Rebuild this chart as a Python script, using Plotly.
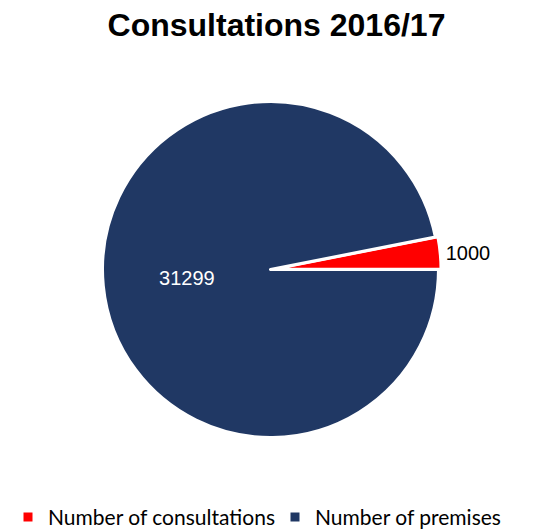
import plotly.graph_objects as go

labels = ["Number of consultations", "Number of premises"]
values = [1000, 31299]
colors = ["#FF0000", "#203864"]

# start the first slice so that it ends at 3 o'clock (slice lies just above it)
first_angle = 360.0 * values[0] / sum(values)

W, H = 537, 531

fig = go.Figure(go.Pie(
    labels=labels,
    values=values,
    sort=False,
    direction="clockwise",
    rotation=90 - first_angle,
    domain=dict(x=[92 / W, (W - 104) / W], y=[96 / H, (H - 88) / H]),
    marker=dict(colors=colors, line=dict(color="white", width=3)),
    pull=[0.015, 0],
    texttemplate="%{value:.0f}",
    textposition=["outside", "inside"],
    insidetextorientation="horizontal",
    textfont=dict(family="Liberation Sans, Arial", size=20),
    insidetextfont=dict(color="white", family="Liberation Sans, Arial", size=20),
    outsidetextfont=dict(color="black", family="Liberation Sans, Arial", size=20),
    hoverinfo="label+value",
    automargin=False,
))

fig.update_layout(
    width=W, height=H,
    paper_bgcolor="white",
    title=dict(text="<b>Consultations 2016/17</b>", x=0.5, xanchor="center",
               xref="container", yref="container",
               y=0.969, yanchor="middle",
               font=dict(family="Liberation Sans, Arial", size=32, color="black")),
    margin=dict(l=0, r=0, t=0, b=0, autoexpand=False),
    legend=dict(orientation="h", xref="container", yref="container",
                x=0.0, xanchor="left", y=0.041, yanchor="middle",
                entrywidth=222, entrywidthmode="pixels",
                font=dict(family="Lato, Carlito, Calibri", size=21, color="black"),
                itemwidth=30, tracegroupgap=0),
    showlegend=True,
)

fig.write_html("out.html")
